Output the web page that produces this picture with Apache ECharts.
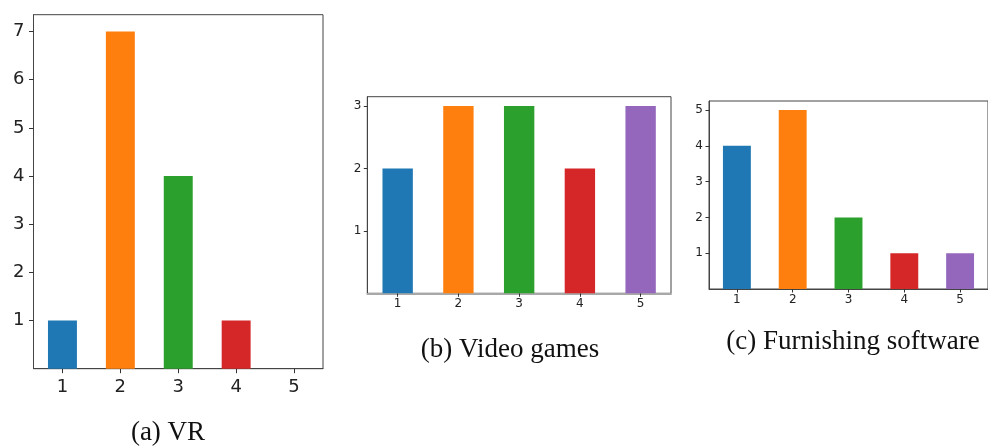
<!DOCTYPE html>
<html>
<head>
<meta charset="utf-8">
<script src="https://cdn.jsdelivr.net/npm/echarts@6/dist/echarts.min.js"></script>
<style>html,body{margin:0;padding:0;background:#fff;}#c{width:988px;height:446px;}</style>
</head>
<body>
<div id="c"></div>
<script>
var categories = ['1', '2', '3', '4', '5'];
var colors = ['#1f77b4', '#ff7f0e', '#2ca02c', '#d62728', '#9467bd'];
var vrValues = [1, 7, 4, 1, 0];
var videoGamesValues = [2, 3, 3, 2, 3];
var furnishingValues = [4, 5, 2, 1, 1];
var vrTicks = [1, 2, 3, 4, 5, 6, 7];
var videoGamesTicks = [1, 2, 3];
var furnishingTicks = [1, 2, 3, 4, 5];
var captions = ['(a) VR', '(b) Video games', '(c) Furnishing software'];

var panels = [
  {values: vrValues, ticks: vrTicks, max: 7.35, grid: {left: 33.5, top: 14.7, width: 289.5, height: 354},
   font: 18, tickLen: 4.5, xMargin: 10, yMargin: 9, bottomColor: '#444', bottomWidth: 1},
  {values: videoGamesValues, ticks: videoGamesTicks, max: 3.15, grid: {left: 367.3, top: 96.7, width: 303.7, height: 196.6},
   font: 12, tickLen: 3.5, xMargin: 5, yMargin: 6, bottomColor: '#a8a8a8', bottomWidth: 2},
  {values: furnishingValues, ticks: furnishingTicks, max: 5.25, grid: {left: 709, top: 101, width: 288, height: 188},
   font: 12, tickLen: 3.5, xMargin: 5, yMargin: 6, bottomColor: '#444', bottomWidth: 1}
];

var grids = [], xAxes = [], yAxes = [], series = [];
panels.forEach(function (p, i) {
  grids.push(Object.assign({show: true, borderColor: '#444', borderWidth: 1, backgroundColor: 'transparent'}, p.grid));
  xAxes.push({
    type: 'category', gridIndex: i, data: categories, boundaryGap: true,
    axisLine: {show: true, lineStyle: {color: p.bottomColor, width: p.bottomWidth}},
    axisTick: {show: true, alignWithLabel: true, length: p.tickLen, lineStyle: {color: '#333'}},
    axisLabel: {fontFamily: 'DejaVu Sans', fontSize: p.font, color: '#222', margin: p.xMargin}
  });
  yAxes.push({
    type: 'value', gridIndex: i, min: 0, max: p.max,
    splitLine: {show: false},
    axisLine: {show: true, lineStyle: {color: '#444'}},
    axisTick: {show: true, length: p.tickLen, customValues: p.ticks, lineStyle: {color: '#333'}},
    axisLabel: {customValues: p.ticks, fontFamily: 'DejaVu Sans', fontSize: p.font, color: '#222', margin: p.yMargin}
  });
  series.push({
    type: 'bar', xAxisIndex: i, yAxisIndex: i, barWidth: '50%', silent: true,
    data: p.values.map(function (v, j) { return {value: v, itemStyle: {color: colors[j]}}; })
  });
});

var captionPos = [[168, 433], [510, 350], [853, 342]];
var graphic = captions.map(function (t, i) {
  return {type: 'text', x: captionPos[i][0], y: captionPos[i][1],
    style: {text: t, fontFamily: 'Liberation Serif', fontSize: 27, fill: '#111', textAlign: 'center', textVerticalAlign: 'middle'}};
});

var chart = echarts.init(document.getElementById('c'), null, {renderer: 'canvas'});
chart.setOption({animation: false, grid: grids, xAxis: xAxes, yAxis: yAxes, series: series, graphic: graphic});
</script>
</body>
</html>
